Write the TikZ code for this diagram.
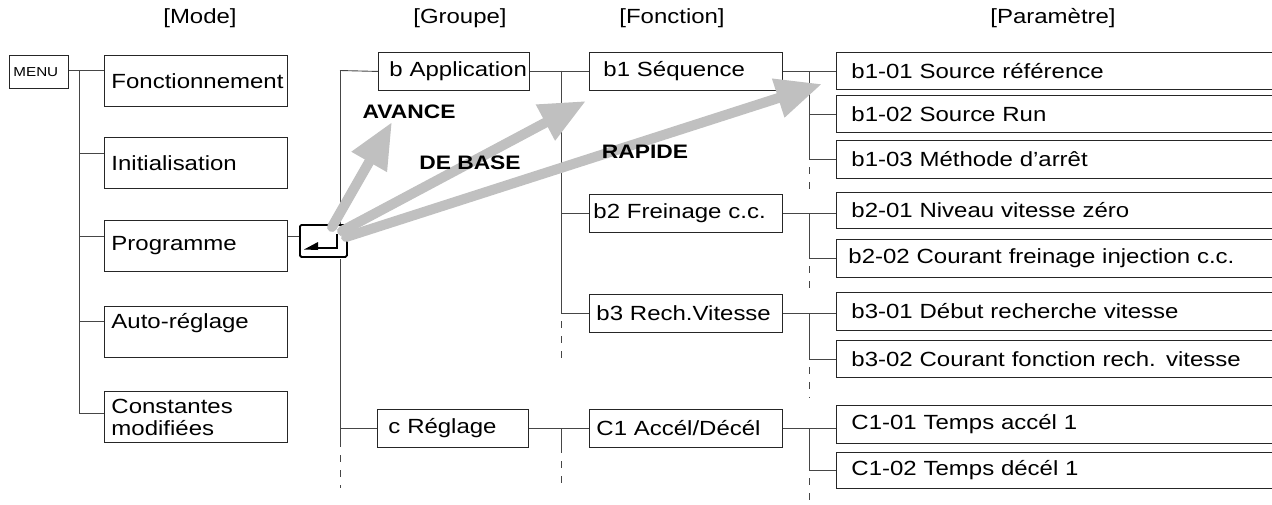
\documentclass[tikz,border=0pt]{standalone}
\usepackage{fontspec}
\setmainfont{Liberation Sans}[FakeStretch=1.17]
\usetikzlibrary{arrows.meta}
\definecolor{ag}{RGB}{192,192,192}
\definecolor{lnc}{RGB}{70,70,70}
\newcommand\fsz{\fontsize{20.5}{22}\selectfont}
\begin{document}
\begin{tikzpicture}[x=1pt,y=-1pt,
  conn/.style={draw=lnc, line width=0.9pt},
  dconn/.style={conn, dash pattern=on 7pt off 8pt, dash phase=7pt},
  box/.style={draw=black!85, line width=0.9pt, anchor=north west, align=left, inner ysep=0pt, font=\fsz},
  modebox/.style={box, minimum width=183, minimum height=51, text width=169, inner xsep=7},
  grpbox/.style={box, minimum width=151, minimum height=38, text width=129, inner xsep=11},
  fctbox/.style={box, minimum width=193, minimum height=38},
  parbox/.style={box, minimum width=460, minimum height=37, text width=430, inner xsep=15},
  hdr/.style={font=\fsz, inner sep=0pt},
  lbl/.style={font=\fontsize{19.5}{21}\selectfont\bfseries, inner sep=0pt},
  garrow/.style={draw=ag, line width=10pt, line cap=round, -{Triangle[length=46pt,width=38pt]}},
]
\useasboundingbox (0,0) rectangle (1272,504);
\clip (0,0) rectangle (1272,504);
\fill[white] (0,0) rectangle (1272,504);

% headers
\node[hdr] (hmode) at (200,18) {[Mode]};
\node[hdr] (hgrp) at (460,18) {[Groupe]};
\node[hdr] (hfct) at (672,18) {[Fonction]};
\node[hdr] (hpar) at (1053,18) {[Paramètre]};

% menu and mode boxes
\node[box, font=\fontsize{13}{15}\selectfont, minimum width=59, minimum height=33, text width=51, inner xsep=4] (menu) at (9,55) {MENU};
\node[modebox] (m1) at (104,55) {Fonctionnement};
\node[modebox] (m2) at (104,137) {Initialisation};
\node[modebox] (m3) at (104,220) {Programme};
\node[modebox] (m4) at (104,306) {Auto-réglage\\\mbox{}};
\node[modebox] (m5) at (104,391) {Constantes\\modifiées};

% enter key
\node[draw=black, line width=1.8pt, rounded corners=1.5pt, anchor=north west, minimum width=47, minimum height=32, inner sep=0pt] (enter) at (299,224) {};
\draw[line width=2.6pt] (337,234) -- (337,248) -- (316,248);
\fill (304,249.5) -- (318,242) -- (318,250) -- cycle;

% groups
\node[grpbox] (ga) at (378,52) {\mbox{b Application}};
\node[grpbox] (gc) at (377,409) {c Réglage};

% functions
\node[fctbox, text width=165, inner xsep=14] (f1) at (589,52) {b1 Séquence};
\node[fctbox, text width=185, inner xsep=4] (f2) at (589,194) {b2 Freinage c.c.};
\node[fctbox, text width=179, inner xsep=7] (f3) at (589,294) {b3 Rech.Vitesse};
\node[fctbox, text width=179, inner xsep=7] (f4) at (589,409) {C1 Accél/Décél};

% parameters
\node[parbox] (p11) at (836,52) {b1-01 Source référence};
\node[parbox] (p12) at (836,95) {b1-02 Source Run};
\node[parbox, minimum height=38] (p13) at (836,140) {b1-03 Méthode d’arrêt};
\node[parbox, minimum height=36] (p21) at (836,192) {b2-01 Niveau vitesse zéro};
\node[parbox, minimum height=38, text width=436, inner xsep=12] (p22) at (836,239) {b2-02 Courant freinage injection c.c.};
\node[parbox, minimum height=38] (p31) at (836,292) {b3-01 Début recherche vitesse};
\node[parbox] (p32) at (836,340) {b3-02 Courant fonction rech. vitesse};
\node[parbox, minimum height=38] (p41) at (836,405) {C1-01 Temps accél 1};
\node[parbox, minimum height=36] (p42) at (836,452) {C1-02 Temps décél 1};

% mode bus
\coordinate (bm) at (79,70);
\coordinate (bmEnd) at (79,413);
\draw[conn] (menu.east |- bm) -- (bm -| m1.west);
\draw[conn] (bm) -- (bmEnd);
\foreach \n/\yy in {m2/153, m3/236, m4/321, m5/413}
  \draw[conn] (bm |- 0,\yy) -- (\n.west |- 0,\yy);
\draw[conn] (m3.east |- 0,236) -- (enter.west |- 0,236);

% group bus
\coordinate (bg) at (340,70.5);
\coordinate (eb) at (340,259);
\coordinate (bg2) at (340,447);
\coordinate (bg3) at (340,488);
\draw[conn] (bg) -- (ga.west);
\draw[conn] (bg) -- (enter.north -| bg);
\draw[conn] (eb) -- (bg2);
\draw[dconn] (bg2) -- (bg3);
\draw[conn] (gc.west -| bg) -- (gc.west);

% function bus
\coordinate (bf) at (561,70.5);
\coordinate (bfA) at (561,313);
\coordinate (bfB) at (561,362);
\coordinate (bfC) at (561,453);
\coordinate (bfD) at (561,488);
\draw[conn] (ga.east) -- (ga.east -| f1.west);
\draw[conn] (bf) -- (bfA);
\draw[dconn] (bfA) -- (bfB);
\draw[conn] (f2.west -| bf) -- (f2.west);
\draw[conn] (f3.west -| bf) -- (f3.west);
\draw[conn] (gc.east) -- (f4.west);
\draw[conn] (gc.east -| bf) -- (bfC);
\draw[dconn] (bfC) -- (bfD);

% parameter buses
\coordinate (q1) at (809,71);
\coordinate (q1e) at (809,191);
\draw[conn] (f1.east) -- (f1.east -| p11.west);
\draw[conn] (q1) -- (p13.west -| q1);
\draw[dconn] (p13.west -| q1) -- (q1e);
\draw[conn] (p12.west -| q1) -- (p12.west);
\draw[conn] (p13.west -| q1) -- (p13.west);

\coordinate (q2) at (809,213);
\coordinate (q2e) at (809,296);
\draw[conn] (f2.east) -- (f2.east -| p21.west);
\draw[conn] (q2) -- (p22.west -| q2);
\draw[dconn] (p22.west -| q2) -- (q2e);
\draw[conn] (p22.west -| q2) -- (p22.west);

\coordinate (q3) at (809,313);
\coordinate (q3e) at (809,398);
\draw[conn] (f3.east) -- (f3.east -| p31.west);
\draw[conn] (q3) -- (p32.west -| q3);
\draw[dconn] (p32.west -| q3) -- (q3e);
\draw[conn] (p32.west -| q3) -- (p32.west);

\coordinate (q4) at (809,428);
\coordinate (q4e) at (809,506);
\draw[conn] (f4.east) -- (f4.east -| p41.west);
\draw[conn] (q4) -- (p42.west -| q4);
\draw[dconn] (p42.west -| q4) -- (q4e);
\draw[conn] (p42.west -| q4) -- (p42.west);

% gray arrows
\coordinate (sAv) at (332,227);
\coordinate (tAv) at (392,122);
\coordinate (sDb) at (342,231);
\coordinate (tDb) at (586,101);
\coordinate (sRa) at (346,237);
\coordinate (tRa) at (822,84);
\draw[garrow] (sAv) -- (tAv);
\draw[garrow] (sDb) -- (tDb);
\draw[garrow] (sRa) -- (tRa);

% labels
\node[lbl] (lav) at (409,112) {AVANCE};
\node[lbl] (ldb) at (470,163) {DE BASE};
\node[lbl] (lra) at (645,152) {RAPIDE};
\end{tikzpicture}
\end{document}
